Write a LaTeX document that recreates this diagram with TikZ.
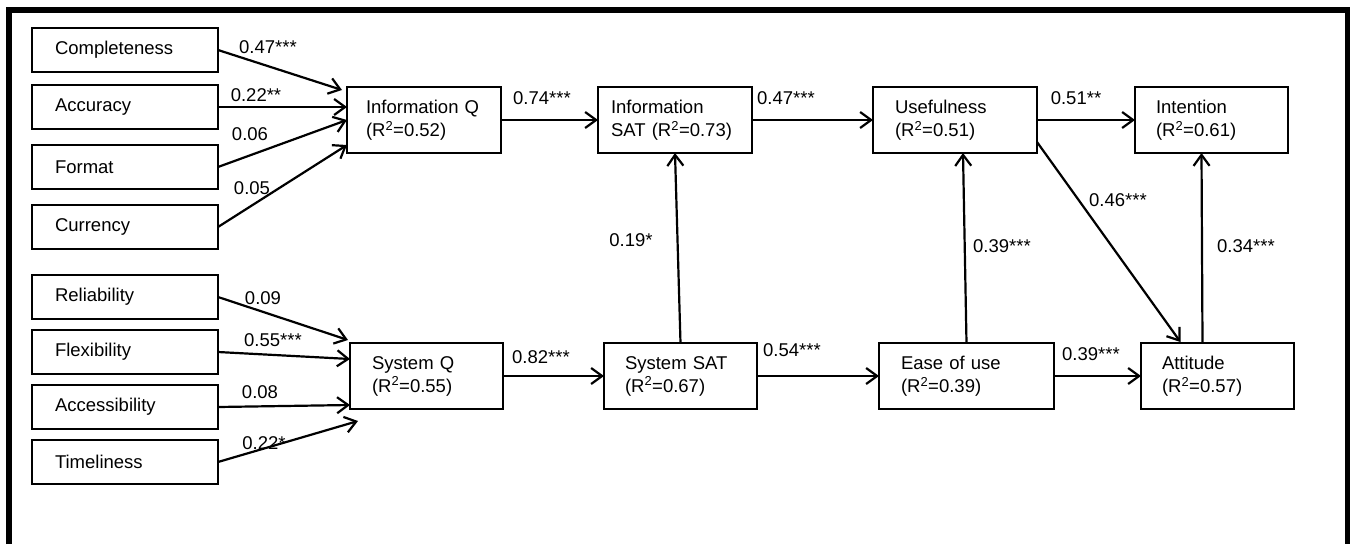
\documentclass[tikz,border=0pt]{standalone}
\usepackage{fontspec}
\setmainfont{Liberation Sans}
\usetikzlibrary{arrows.meta}

\newcommand{\rsq}{R\textsuperscript{2}}

\tikzset{
  box/.style={draw, line width=2.2pt, anchor=north west, align=left,
              inner ysep=0pt, outer sep=0pt},
  arr/.style={line width=2.2pt, -{Straight Barb[length=11pt,width=16pt]}},
  coef/.style={inner sep=0pt},
  frame/.style={line width=6pt}
}

\begin{document}
\begin{tikzpicture}[x=1pt, y=-1pt, font=\fontsize{18.5}{23}\selectfont]
\useasboundingbox (0,0) rectangle (1350,544);

% outer frame (open at the bottom)
\coordinate (fbl) at (8.5,544);
\coordinate (ftl) at (8.5,10);
\coordinate (ftr) at (1347.5,10);
\coordinate (fbr) at (1347.5,544);
\draw[frame] (fbl) -- (ftl) -- (ftr) -- (fbr);

% information quality dimensions
\node[box, minimum height=44pt, text width=140pt, inner xsep=23pt] (comp) at (32,28)  {Completeness};
\node[box, minimum height=44pt, text width=140pt, inner xsep=23pt] (acc)  at (32,85)  {Accuracy};
\node[box, minimum height=44pt, text width=140pt, inner xsep=23pt] (fmt)  at (32,145) {Format};
\node[box, minimum height=44pt, text width=140pt, inner xsep=23pt] (cur)  at (32,205) {Currency};

% system quality dimensions
\node[box, minimum height=44pt, text width=140pt, inner xsep=23pt] (rel)  at (32,275) {Reliability};
\node[box, minimum height=44pt, text width=140pt, inner xsep=23pt] (flx)  at (32,330) {Flexibility};
\node[box, minimum height=44pt, text width=140pt, inner xsep=23pt] (acs)  at (32,385) {Accessibility};
\node[box, minimum height=44pt, text width=140pt, inner xsep=23pt] (tml)  at (32,440) {Timeliness};

% constructs
\node[box, minimum height=66pt, text width=116pt, inner xsep=19pt] (iq)   at (347,87)   {Information Q\\(\rsq=0.52)};
\node[box, minimum height=66pt, text width=128pt, inner xsep=13pt] (isat) at (598,87)   {Information\\SAT (\rsq=0.73)};
\node[box, minimum height=66pt, text width=120pt, inner xsep=22pt] (use)  at (873,87)   {Usefulness\\(\rsq=0.51)};
\node[box, minimum height=66pt, text width=111pt, inner xsep=21pt] (int)  at (1135,87)  {Intention\\(\rsq=0.61)};
\node[box, minimum height=66pt, text width=109pt, inner xsep=22pt] (sq)   at (350,343)  {System Q\\(\rsq=0.55)};
\node[box, minimum height=66pt, text width=111pt, inner xsep=21pt] (ssat) at (604,343)  {System SAT\\(\rsq=0.67)};
\node[box, minimum height=66pt, text width=131pt, inner xsep=22pt] (ease) at (879,343)  {Ease of use\\(\rsq=0.39)};
\node[box, minimum height=66pt, text width=111pt, inner xsep=21pt] (att)  at (1141,343) {Attitude\\(\rsq=0.57)};

% paths into Information Q
\draw[arr] (comp.east) -- ([xshift=-5pt,yshift=-3pt]iq.north west);
\draw[arr] (acc.east)  -- ([yshift=13pt]iq.west);
\draw[arr] (fmt.east)  -- (iq.west);
\draw[arr] (cur.east)  -- ([yshift=-25pt]iq.west);

% paths into System Q
\draw[arr] (rel.east) -- ([xshift=-2pt,yshift=3pt]sq.north west);
\draw[arr] (flx.east) -- ([yshift=17pt]sq.west);
\draw[arr] (acs.east) -- ([yshift=-29pt]sq.west);
\draw[arr] (tml.east) -- ([xshift=8pt,yshift=-12pt]sq.south west);

% structural paths
\draw[arr] (iq.east)   -- (isat.west);
\draw[arr] (isat.east) -- (use.west);
\draw[arr] (use.east)  -- (int.west);
\draw[arr] (sq.east)   -- (ssat.west);
\draw[arr] (ssat.east) -- (ease.west);
\draw[arr] (ease.east) -- (att.west);
\draw[arr] (ssat.north) -- (isat.south);
\draw[arr] (ease.north) -- ([xshift=8pt]use.south);
\draw[arr] ([yshift=-22pt]use.east) -- ([xshift=-37pt,yshift=1pt]att.north);
\draw[arr] ([xshift=-15pt]att.north) -- ([xshift=-10pt]int.south);

% path coefficients
\node[coef] (c1)  at (268,47)  {0.47***};
\node[coef] (c2)  at (256,95)  {0.22**};
\node[coef] (c3)  at (250,134) {0.06};
\node[coef] (c4)  at (252,188) {0.05};
\node[coef] (c5)  at (263,298) {0.09};
\node[coef] (c6)  at (273,340) {0.55***};
\node[coef] (c7)  at (260,392) {0.08};
\node[coef] (c8)  at (264,443) {0.22*};
\node[coef] (c9)  at (542,98)  {0.74***};
\node[coef] (c10) at (786,98)  {0.47***};
\node[coef] (c11) at (631,240) {0.19*};
\node[coef] (c12) at (541,357) {0.82***};
\node[coef] (c13) at (792,350) {0.54***};
\node[coef] (c14) at (1076,98) {0.51**};
\node[coef] (c15) at (1118,200) {0.46***};
\node[coef] (c16) at (1002,246) {0.39***};
\node[coef] (c17) at (1246,246) {0.34***};
\node[coef] (c18) at (1091,354) {0.39***};
\end{tikzpicture}
\end{document}
